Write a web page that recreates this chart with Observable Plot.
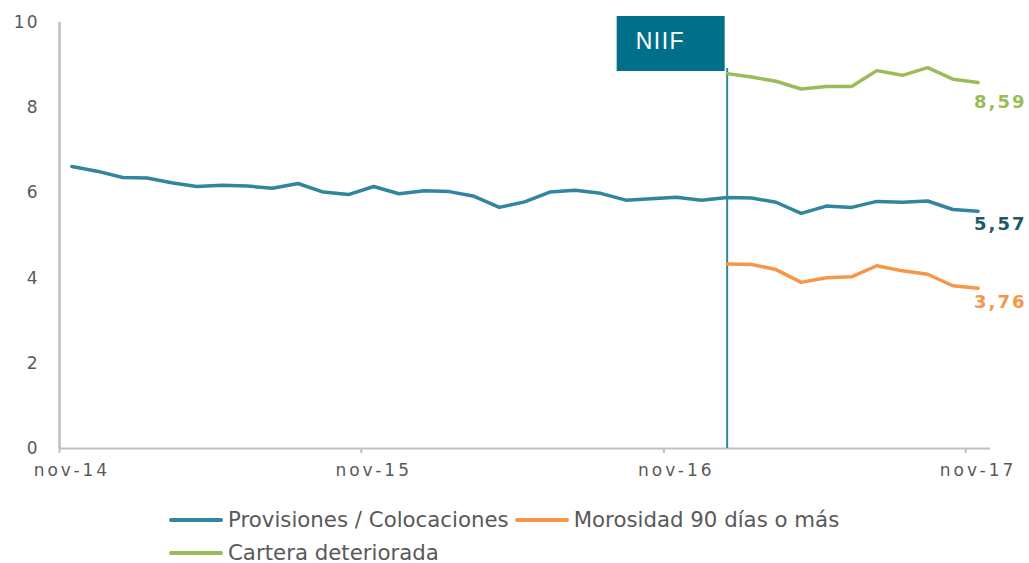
<!DOCTYPE html>
<html>
<head>
<meta charset="utf-8">
<script src="https://cdn.jsdelivr.net/npm/d3@7"></script>
<script src="https://cdn.jsdelivr.net/npm/@observablehq/plot@0.6"></script>
<style>
  html, body { margin: 0; padding: 0; background: #ffffff; overflow: hidden; }
  #chart svg { display: block; }
  g[aria-label="x-axis tick label"] text { letter-spacing: 3px; }
  g[aria-label="y-axis tick label"] text { letter-spacing: 2px; }
  g[aria-label="text"] text { letter-spacing: 2px; }
  #legend {
    box-sizing: border-box;
    padding: 3px 0 0 169px;
    width: 870px;
    display: flex; flex-wrap: wrap; column-gap: 6px;
    font-family: "DejaVu Sans", Verdana, sans-serif;
    font-size: 21.3px; line-height: 33px; color: #595959;
  }
  #legend .item { display: flex; align-items: center; white-space: nowrap; }
  #legend .sw { display: inline-block; width: 54px; height: 4px; margin-right: 5px; border-radius: 2px; }
</style>
</head>
<body>
<div id="chart"></div>
<div id="legend"></div>
<script>
// ---- Data ----
const seriesNames = ["Provisiones / Colocaciones", "Morosidad 90 días o más", "Cartera deteriorada"];
const seriesColors = ["#31859C", "#F79646", "#9BBB59"];
const labelColors = ["#215968", "#F79646", "#9BBB59"];

const monthNames = ["ene","feb","mar","abr","may","jun","jul","ago","sep","oct","nov","dic"];
const firstMonth = [2014, 10];   // nov-14
const monthCount = 37;           // nov-14 .. nov-17
const niifStartIndex = 26;       // ene-17
const niifLabel = "NIIF";
const niifTop = 8.92;
const tickMonthIndices = [0, 12, 24, 36];

const provisiones = [6.62, 6.51, 6.36, 6.35, 6.24, 6.15, 6.18, 6.16, 6.11, 6.22, 6.02, 5.96,
  6.15, 5.98, 6.05, 6.03, 5.92, 5.66, 5.79, 6.02, 6.06, 5.99, 5.83, 5.86,
  5.90, 5.83, 5.89, 5.88, 5.78, 5.52, 5.69, 5.66, 5.80, 5.78, 5.81, 5.61, 5.57];
const morosidad = [4.33, 4.32, 4.20, 3.90, 4.01, 4.03, 4.29, 4.17, 4.09, 3.82, 3.76];
const cartera = [8.80, 8.72, 8.62, 8.44, 8.50, 8.50, 8.87, 8.76, 8.94, 8.67, 8.59];
const yTicks = [0, 2, 4, 6, 8, 10];

// ---- Derived ----
const startDate = new Date(Date.UTC(firstMonth[0], firstMonth[1], 1));
const monthStarts = d3.range(monthCount + 1).map(i => d3.utcMonth.offset(startDate, i));
const mid = i => new Date((+monthStarts[i] + +monthStarts[i + 1]) / 2);
const monthLabel = i => {
  const d = monthStarts[i];
  return monthNames[d.getUTCMonth()] + "-" + String(d.getUTCFullYear()).slice(2);
};

const rows = [];
provisiones.forEach((v, i) => rows.push({date: mid(i), value: v, serie: seriesNames[0]}));
morosidad.forEach((v, i) => rows.push({date: mid(niifStartIndex + i), value: v, serie: seriesNames[1]}));
cartera.forEach((v, i) => rows.push({date: mid(niifStartIndex + i), value: v, serie: seriesNames[2]}));

const lastOf = arr => arr[arr.length - 1];
const fmt = v => d3.format(".2f")(v).replace(".", ",");
const endLabel = (arr, k, dy) => Plot.text(
  [{date: mid(monthCount - 1), value: lastOf(arr)}],
  {x: "date", y: "value", text: d => fmt(d.value), textAnchor: "start", dx: -4, dy,
   fill: labelColors[k], fontWeight: "bold", fontSize: 18, fontFamily: "DejaVu Sans"}
);

const niifDate = mid(niifStartIndex);

const chart = Plot.plot({
  width: 1029,
  height: 500,
  marginLeft: 59,
  marginRight: 39,
  marginTop: 22,
  marginBottom: 52,
  style: {fontFamily: "DejaVu Sans, Verdana, sans-serif", fontSize: "17px", color: "#595959", background: "#ffffff"},
  x: {type: "utc", domain: [monthStarts[0], monthStarts[monthCount]]},
  y: {domain: [0, 10]},
  color: {domain: seriesNames, range: seriesColors},
  marks: [
    Plot.ruleY([0], {stroke: "#BFBFBF", strokeWidth: 2}),
    Plot.ruleX([monthStarts[0]], {stroke: "#BFBFBF", strokeWidth: 2.5}),
    Plot.axisY({ticks: yTicks, tickSize: 0, tickPadding: 20, label: null, fill: "#595959", fontSize: 17}),
    Plot.axisX({ticks: tickMonthIndices.map(i => monthStarts[i]), tickSize: 5, tickFormat: () => "", stroke: "#BFBFBF", strokeWidth: 2, label: null}),
    Plot.axisX({ticks: tickMonthIndices.map(i => mid(i)), tickSize: 0, tickPadding: 15, fontSize: 17,
      tickFormat: d => monthLabel(tickMonthIndices.find(i => +mid(i) === +d)), label: null, fill: "#595959"}),
    Plot.ruleX([{date: niifDate, top: niifTop}], {x: "date", y1: 0, y2: "top", stroke: "#31859C", strokeWidth: 2}),
    Plot.line(rows, {x: "date", y: "value", z: "serie", stroke: "serie", strokeWidth: 3.5, strokeLinejoin: "round"}),
    endLabel(cartera, 2, 20),
    endLabel(provisiones, 0, 13),
    endLabel(morosidad, 1, 14)
  ]
});
document.getElementById("chart").appendChild(chart);

// NIIF annotation box anchored to the NIIF month via the plot's scales
const sx = chart.scale("x"), sy = chart.scale("y");
const xr = sx.apply(niifDate) - 2;
const yt = sy.apply(10) - 6;
const g = d3.select(chart).append("g").attr("aria-label", "niif-box");
g.append("rect").attr("x", xr - 108).attr("y", yt).attr("width", 108).attr("height", 55).attr("fill", "#00708A");
g.append("text").attr("x", xr - 108 + 19).attr("y", yt + 25).attr("dy", "0.36em")
  .attr("text-anchor", "start")
  .attr("fill", "#ffffff").attr("font-family", "Liberation Sans, Arial, sans-serif")
  .attr("font-size", 23).attr("letter-spacing", "1.5px").text(niifLabel);

// Legend
const legend = d3.select("#legend");
[0, 1, 2].forEach(k => {
  const it = legend.append("div").attr("class", "item");
  it.append("span").attr("class", "sw").style("background", seriesColors[k]);
  it.append("span").text(seriesNames[k]);
});
</script>
</body>
</html>
